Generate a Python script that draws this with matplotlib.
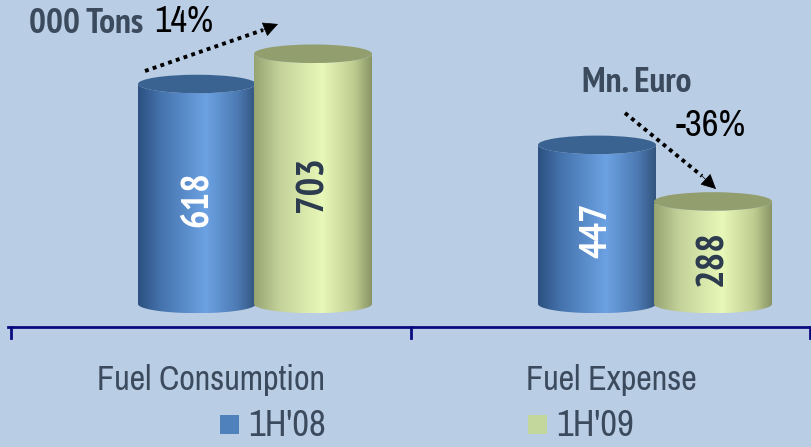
import os
import numpy as np
import matplotlib.pyplot as plt
from matplotlib import font_manager as fm
from matplotlib.colors import LinearSegmentedColormap
from matplotlib.patches import Ellipse, PathPatch, Rectangle, FancyArrowPatch
from matplotlib.path import Path
from matplotlib.lines import Line2D

categories = ['Fuel Consumption', 'Fuel Expense']
periods = ["1H'08", "1H'09"]
values_08 = [618, 447]
values_09 = [703, 288]
units = ['000 Tons', 'Mn. Euro']
changes = ['14%', '-36%']

W, H = 812, 447
bg = '#B9CDE5'
dark = '#3B4A5C'
blue_face = '#4F81BD'
green_face = '#C3D69B'


def narrow_font(bold):
    # look for a condensed sans face, else fall back to Liberation Sans
    found = []
    for f in fm.fontManager.ttflist:
        base = os.path.basename(f.fname).lower()
        if 'italic' in base or 'oblique' in base:
            continue
        if not any(k in base or k in f.name.lower() for k in ('narrow', 'condensed')):
            continue
        is_bold = 'bold' in base or (isinstance(f.weight, int) and f.weight >= 600) or f.weight == 'bold'
        if is_bold != bold or 'semi' in base or 'light' in base or 'extra' in base:
            continue
        rank = 0 if 'narrow' in base else (1 if 'dejavu' in base else 2)
        found.append((rank, f.fname))
    if found:
        return fm.FontProperties(fname=sorted(found)[0][1]), True
    return fm.FontProperties(family='Liberation Sans',
                             weight='bold' if bold else 'normal'), False


reg, reg_narrow = narrow_font(False)
bld, bld_narrow = narrow_font(True)
k_reg = 1.0 if reg_narrow else 0.84
k_bld = 1.0 if bld_narrow else 0.84


def F(props, size):
    p = props.copy()
    p.set_size(size)
    return p


fig = plt.figure(figsize=(W / 100, H / 100), dpi=100)
fig.patch.set_facecolor(bg)
ax = fig.add_axes([0, 0, 1, 1])
ax.set_facecolor(bg)


def px(x, y):
    # pixel position (from top-left) -> figure fraction
    return x / W, 1 - y / H


bar_w = 0.295
ell_h = 52  # full height of the cylinder caps, in data units

blue_cmap = LinearSegmentedColormap.from_list(
    'blue', [(0, '#2C5080'), (0.2, '#4674AE'), (0.58, '#6CA2E3'),
             (0.85, '#4C79B2'), (1, '#33557E')])
green_cmap = LinearSegmentedColormap.from_list(
    'green', [(0, '#97A472'), (0.22, '#C4D29A'), (0.58, '#E8F8B8'),
              (0.85, '#BFCC90'), (1, '#8A9566')])


def cylinder(x, h, cmap, top_color, z):
    t = np.linspace(np.pi, 2 * np.pi, 80)
    bottom = np.column_stack([x + bar_w / 2 * np.cos(t), ell_h / 2 * np.sin(t)])
    top = np.column_stack([x + bar_w / 2 * np.cos(t[::-1]),
                           h + ell_h / 2 * np.sin(t[::-1])])
    verts = np.vstack([bottom, top, bottom[:1]])
    codes = [Path.MOVETO] + [Path.LINETO] * (len(verts) - 2) + [Path.CLOSEPOLY]
    body = PathPatch(Path(verts, codes), facecolor='none', edgecolor='none')
    ax.add_patch(body)
    grad = np.linspace(0, 1, 256).reshape(1, -1)
    im = ax.imshow(grad, cmap=cmap, aspect='auto', zorder=z,
                   extent=[x - bar_w / 2, x + bar_w / 2, -ell_h / 2, h])
    im.set_clip_path(body)
    ax.add_patch(Ellipse((x, h), bar_w, ell_h, facecolor=top_color,
                         edgecolor='none', zorder=z + 0.1))


for i in range(len(categories)):
    cylinder(i - 0.145, values_08[i], blue_cmap, '#3A6391', 2)
    cylinder(i + 0.145, values_09[i], green_cmap, '#939E6E', 3)
    ax.text(i - 0.145, values_08[i] / 2 - 15, str(values_08[i]), rotation=90,
            ha='center', va='center', color='white',
            fontproperties=F(bld, 28 * k_bld), zorder=5)
    ax.text(i + 0.145, values_09[i] / 2 - 15, str(values_09[i]), rotation=90,
            ha='center', va='center', color='#2B3A4E',
            fontproperties=F(bld, 28 * k_bld), zorder=5)

ax.set_xlim(-0.6375, 1.3925)
ax.set_ylim(-402, 854)
ax.axis('off')

# category axis with tick marks between groups
fig.add_artist(Line2D([8 / W, 1], [1 - 327 / H] * 2, color='#0A0A80', lw=2))
for tx in [11, 411, 810]:
    fig.add_artist(Line2D([tx / W] * 2, [1 - 327 / H, 1 - 338 / H],
                          color='#0A0A80', lw=2))

for cx, name in zip([211, 611], categories):
    fig.text(*px(cx, 380), name, ha='center', va='center', color=dark,
             fontproperties=F(reg, 24.6 * k_reg))

# legend
for (sx, tx), label, col in zip([(220, 248), (528, 556)], periods,
                                [blue_face, green_face]):
    fig.add_artist(Rectangle(px(sx, 434), 19 / W, 19 / H, facecolor=col,
                             edgecolor='none', transform=fig.transFigure))
    fig.text(*px(tx, 425), label, ha='left', va='center', color=dark,
             fontproperties=F(reg, 26.4 * k_reg))

# unit labels and change arrows
fig.text(*px(143, 24), units[0], ha='right', va='center', color=dark,
         fontproperties=F(bld, 25.5 * k_bld))
fig.text(*px(154, 21), changes[0], ha='left', va='center', color='black',
         fontproperties=F(reg, 26 * k_reg))
fig.text(*px(582, 83), units[1], ha='left', va='center', color=dark,
         fontproperties=F(bld, 25.5 * k_bld))
fig.text(*px(676, 126), changes[1], ha='left', va='center', color='black',
         fontproperties=F(reg, 26.4 * k_reg))

for start, end, tip in [((145, 71), (263, 30), (278, 24)),
                        ((625, 113), (702, 176), (716, 189))]:
    xs, ys = zip(px(*start), px(*end))
    fig.add_artist(Line2D(xs, ys, color='black', lw=2.8, ls=(0, (1, 1.1))))
    fig.add_artist(FancyArrowPatch(
        px(*end), px(*tip), transform=fig.transFigure, arrowstyle='-|>',
        mutation_scale=24, color='black', lw=0.5, shrinkA=0, shrinkB=0))

fig.savefig('out.png', dpi=100, facecolor=bg)
